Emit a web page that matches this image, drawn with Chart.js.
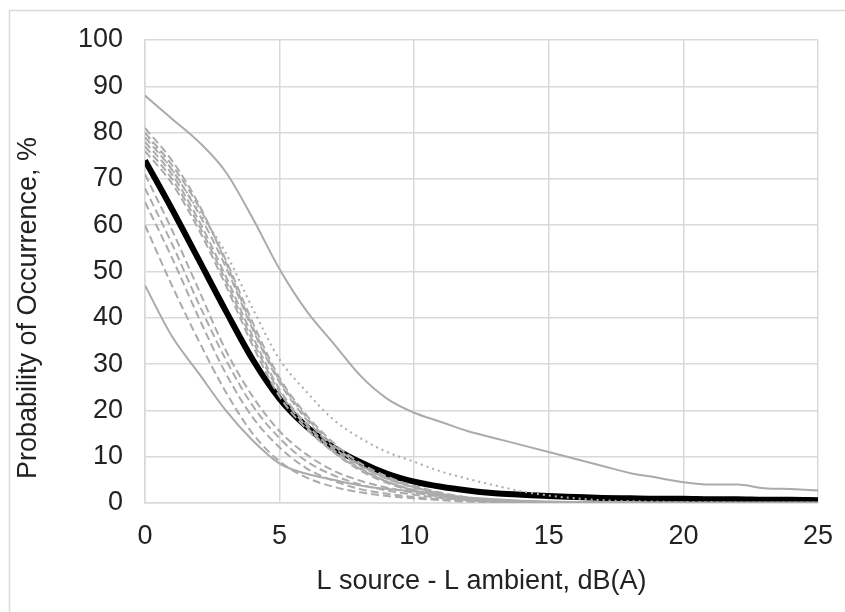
<!DOCTYPE html>
<html>
<head>
<meta charset="utf-8">
<script src="https://cdn.jsdelivr.net/npm/chart.js@4.4.1/dist/chart.umd.min.js"></script>
<style>
  html, body { margin: 0; padding: 0; background: #fff; }
  #wrap { width: 845px; height: 612px; }
</style>
</head>
<body>
<div id="wrap"><canvas id="c" width="845" height="612"></canvas></div>
<script>
// x positions (dB(A) difference)
const xs = [0,1,2,3,4,5,6,7,8,9,10,11,12,13,14,15,16,17,18,19,20,21,22,23,24,25];

// thick black mean curve
const meanCurve = [74,63.5,52.5,41.5,31,22.5,16.5,12,8.8,6.3,4.6,3.5,2.7,2.1,1.8,1.5,1.3,1.1,1.0,0.9,0.9,0.8,0.8,0.7,0.7,0.6];

// solid grey bounds
const upperBound = [88,83,78,71.5,61.5,50.5,41.5,34.5,27.5,22.5,19.5,17.5,15.5,14,12.5,11,9.5,8,6.5,5.5,4.5,4,4,3.2,3,2.7];
const lowerBound = [47,36,28,20,13.5,8.5,6.3,5,3.8,3,2.5,1.8,1.2,0.8,0.5,0.3,0.2,0.2,0.1,0.1,0.1,0.1,0.1,0.1,0.1,0.1];

// dotted grey curve
const dottedCurve = [80,72,63,54,42,31,24,18,14,11,8.9,6.8,5.2,3.8,2.5,1.6,1,0.6,0.4,0.3,0.2,0.2,0.1,0.1,0.1,0.1];

// dashed grey curves (individual cases)
const dashL1 = [60,47,35,24,15,9,5.5,3.5,2.3,1.5,1,0.6,0.3,0.2,0.1,0.1,0.1,0,0,0,0,0,0,0,0,0];
const dashL2 = [65,53,40,28,18.5,12,7.5,4.8,3,2,1.3,0.8,0.4,0.2,0.1,0.1,0,0,0,0,0,0,0,0,0,0];
const dashL3 = [68,56,43,31,21,14,9,6,4,2.7,1.8,1.1,0.6,0.3,0.2,0.1,0.1,0,0,0,0,0,0,0,0,0];
const dashL4 = [71,59,46,33,23,15.5,10.5,7,4.8,3.3,2.2,1.4,0.8,0.4,0.2,0.1,0.1,0,0,0,0,0,0,0,0,0];
const dashR1 = [76,69,59,47,34,23,16,11,7.3,4.6,2.8,1.6,0.8,0.4,0.2,0.1,0,0,0,0,0,0,0,0,0,0];
const dashR2 = [78,71,61,49,36,24.5,17,11.5,7.5,4.6,2.7,1.4,0.7,0.3,0.1,0.1,0,0,0,0,0,0,0,0,0,0];
const dashR3 = [79,72,62.5,51,37.5,26,18,12,8,5.2,3.3,1.9,1,0.5,0.2,0.1,0,0,0,0,0,0,0,0,0,0];
const dashR4 = [80,73,64,52.5,39,27,19,13,8.6,5.7,3.7,2.2,1.2,0.6,0.3,0.1,0,0,0,0,0,0,0,0,0,0];
const dashR5 = [81,74,64.5,52,38,26.5,18.5,12.5,8.2,5.3,3.4,2,1,0.5,0.2,0.1,0,0,0,0,0,0,0,0,0,0];
const dashR6 = [77,70,60,48,35,24,16.5,11,7,4.3,2.5,1.3,0.6,0.3,0.1,0.1,0,0,0,0,0,0,0,0,0,0];

const xTicks = [0,5,10,15,20,25];
const yTicks = [0,10,20,30,40,50,60,70,80,90,100];
const yTitle = 'Probability of Occurrence, %';

const GREY = '#ababab';
const FONT = { family: 'Liberation Sans, Arial', size: 27 };
const pts = arr => arr.map((v, i) => ({x: xs[i], y: v}));

function line(arr, opts) {
  return Object.assign({
    data: pts(arr),
    borderColor: GREY,
    borderWidth: 2,
    pointRadius: 0,
    fill: false,
    cubicInterpolationMode: 'monotone'
  }, opts);
}

const dashed = [dashL1, dashL2, dashL3, dashL4, dashR1, dashR2, dashR3, dashR4, dashR5, dashR6]
  .map(a => line(a, {borderDash: [8, 4], borderWidth: 2}));

const datasets = [
  line(upperBound, {}),
  line(lowerBound, {}),
  line(dottedCurve, {borderDash: [2, 4], borderWidth: 2}),
  ...dashed,
  line(meanCurve, {borderColor: '#000', borderWidth: 6})
];

// light frame round the chart (top and left edges visible) + y title placed like Excel
const frame = {
  id: 'frame',
  beforeDraw(chart) {
    const ctx = chart.ctx;
    ctx.save();
    ctx.strokeStyle = '#d9d9d9';
    ctx.lineWidth = 1.5;
    ctx.beginPath();
    ctx.moveTo(9.5, 612);
    ctx.lineTo(9.5, 10.5);
    ctx.lineTo(845, 10.5);
    ctx.stroke();
    ctx.restore();
  },
  afterDraw(chart) {
    const ctx = chart.ctx;
    ctx.save();
    ctx.translate(29, 308);
    ctx.rotate(-Math.PI / 2);
    ctx.fillStyle = '#222';
    ctx.font = FONT.size + 'px ' + FONT.family;
    ctx.textAlign = 'center';
    ctx.textBaseline = 'middle';
    ctx.fillText(yTitle, 0, 0);
    ctx.restore();
  }
};

new Chart(document.getElementById('c'), {
  type: 'line',
  data: { datasets },
  plugins: [frame],
  options: {
    responsive: false,
    animation: false,
    layout: { padding: { left: 12, right: 27, top: 40, bottom: 10 } },
    plugins: { legend: { display: false }, tooltip: { enabled: false } },
    scales: {
      x: {
        type: 'linear',
        min: 0, max: 25,
        afterBuildTicks: s => { s.ticks = xTicks.map(v => ({value: v})); },
        ticks: { color: '#222', font: FONT, padding: 17 },
        grid: { color: '#d9d9d9', lineWidth: 1.5, drawTicks: false },
        border: { color: '#d9d9d9', width: 1.5 },
        title: { display: true, text: 'L source - L ambient, dB(A)', color: '#222',
                 font: FONT, padding: { top: 6 } },
        afterFit: s => { s.height = 99; s.paddingLeft = 0; s.paddingRight = 0; }
      },
      y: {
        min: 0, max: 100,
        afterBuildTicks: s => { s.ticks = yTicks.map(v => ({value: v})); },
        ticks: { color: '#222', font: FONT, padding: 22 },
        grid: { color: '#d9d9d9', lineWidth: 1.5, drawTicks: false },
        border: { color: '#d9d9d9', width: 1.5 },
        afterFit: s => { s.width = 133; s.paddingTop = 0; s.paddingBottom = 0; }
      }
    }
  }
});
</script>
</body>
</html>
